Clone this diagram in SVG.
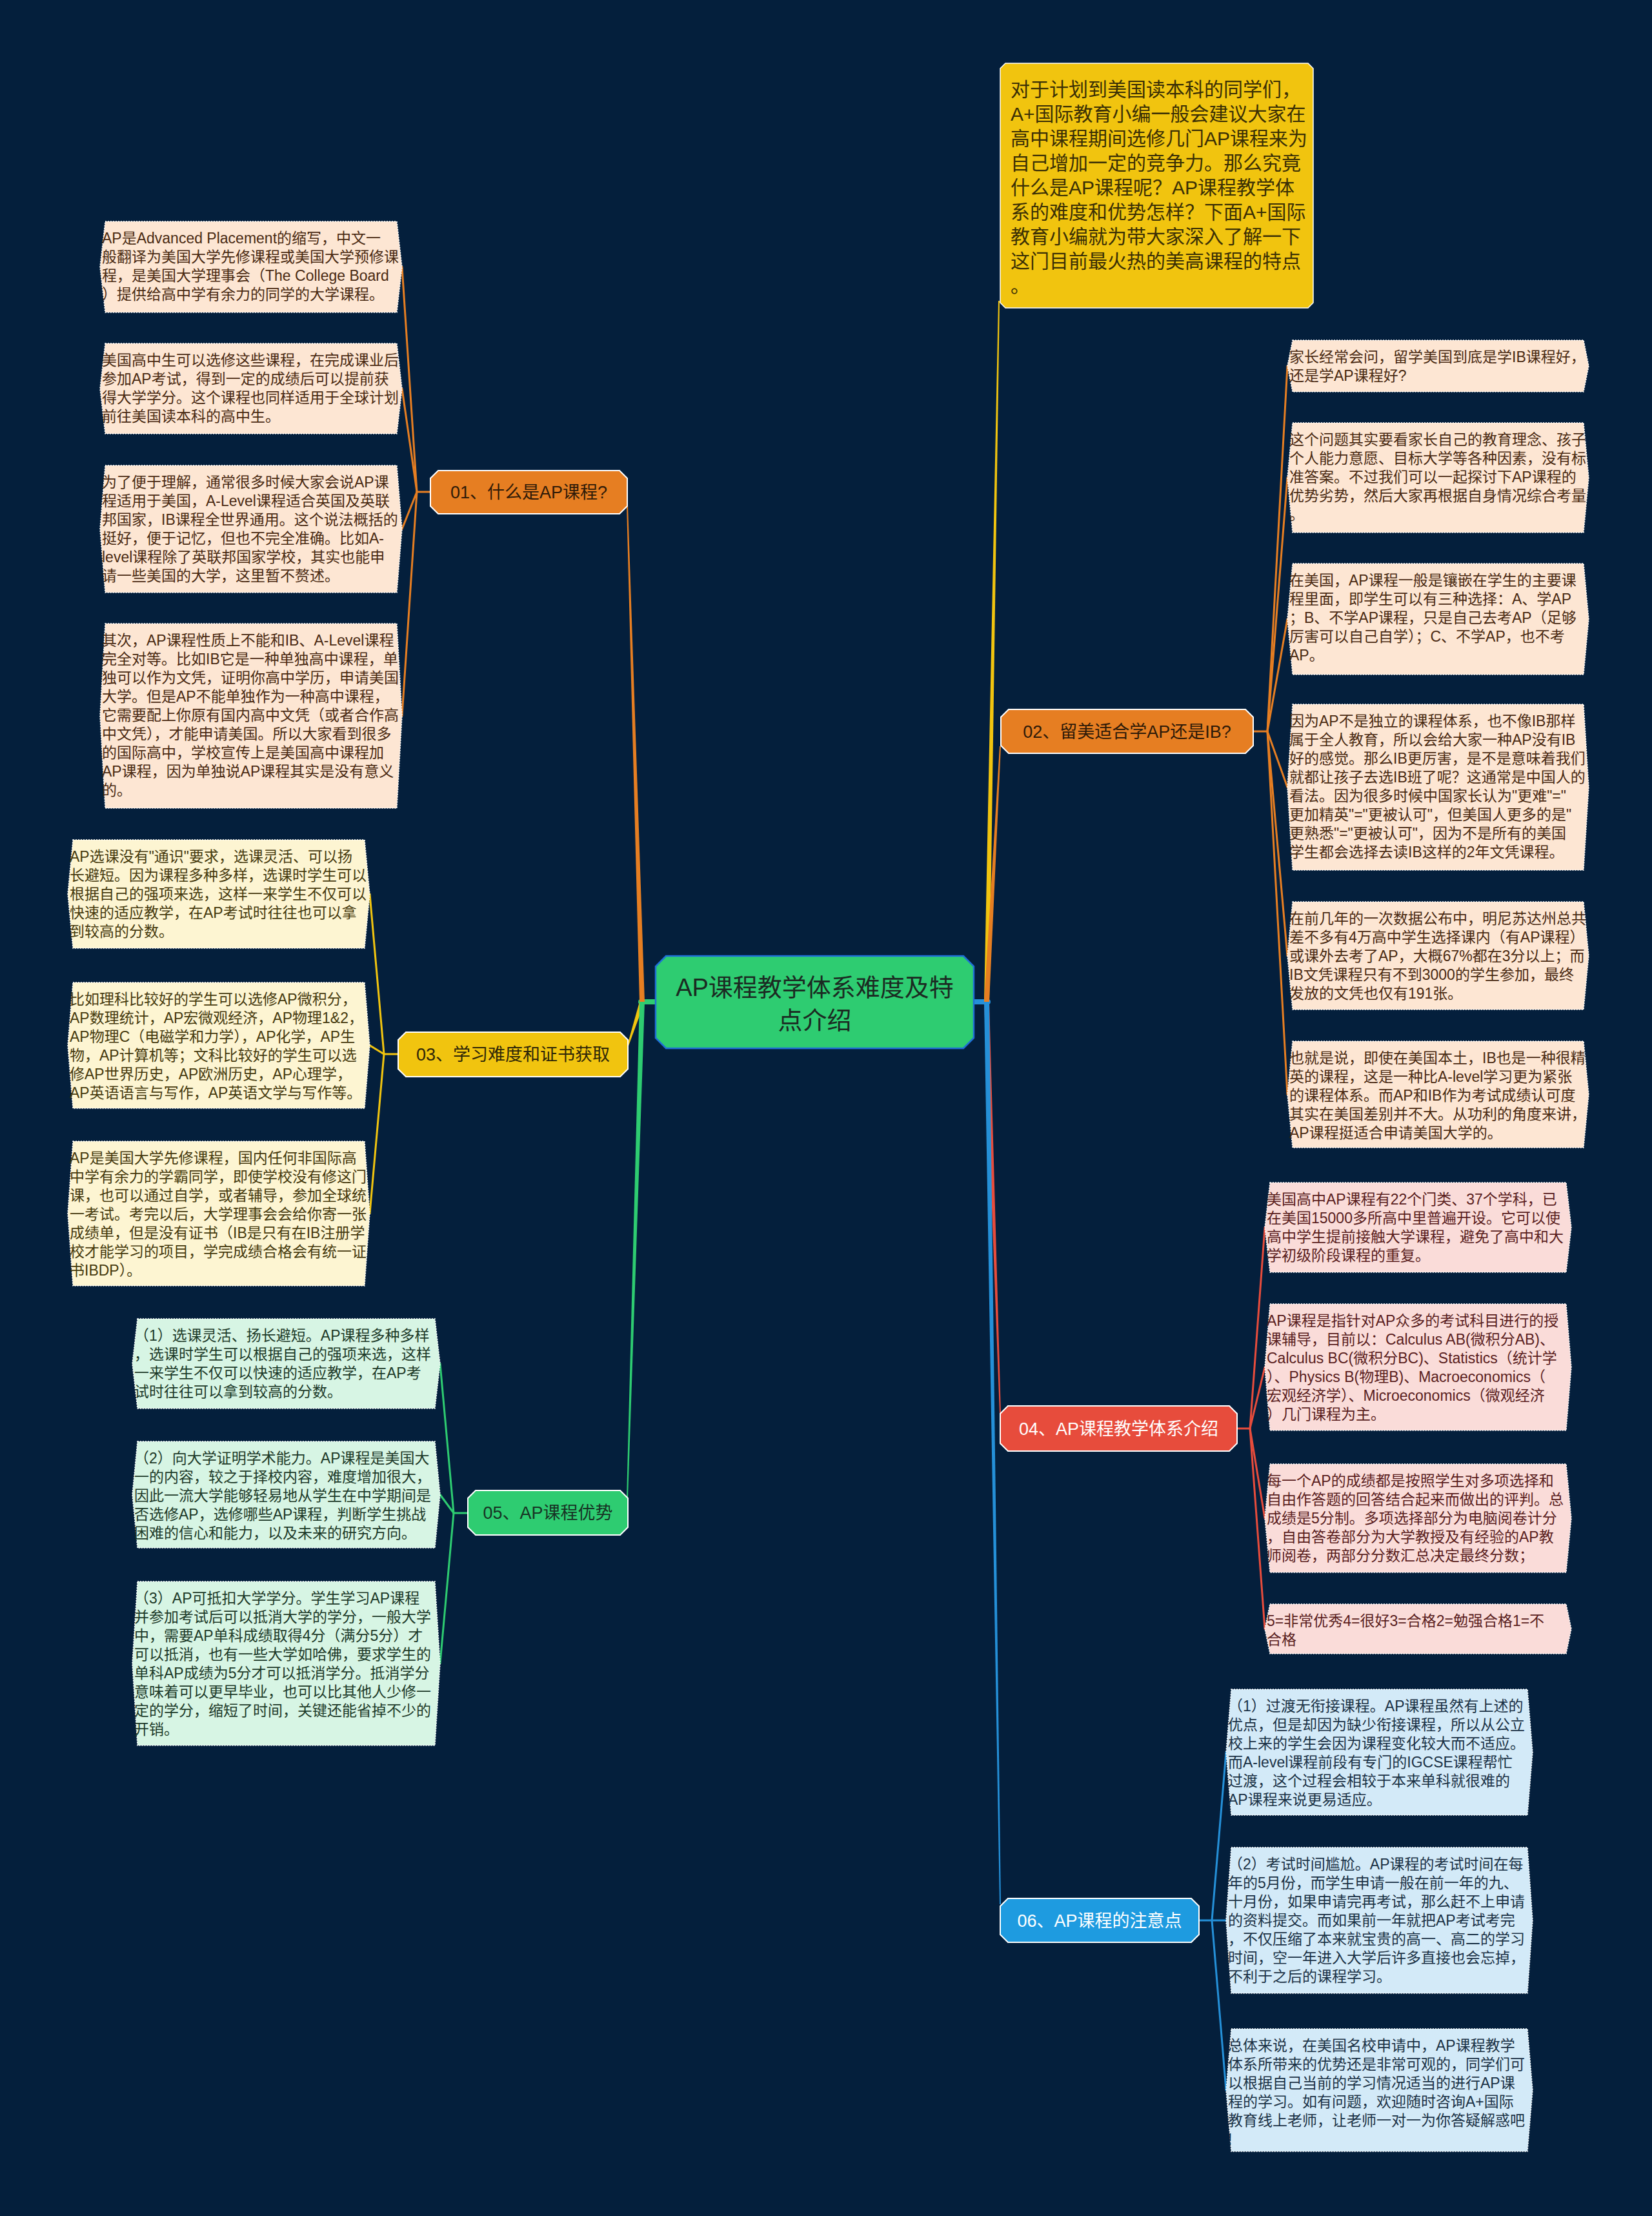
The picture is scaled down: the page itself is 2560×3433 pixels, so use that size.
<svg xmlns="http://www.w3.org/2000/svg" width="2560" height="3433" viewBox="0 0 2560 3433">
<style>
.lt{font-family:"Liberation Sans","Noto Sans CJK SC",sans-serif;font-size:23px}
.bt{font-family:"Liberation Sans","Noto Sans CJK SC",sans-serif;font-size:27px;text-anchor:middle}
.leaf polygon{stroke:#ffffff;stroke-width:1.5;stroke-dasharray:2 2}
.bn{stroke:#ffffff;stroke-width:2}
.fo{fill:#fde6d3}.fy{fill:#fdf5d2}.fg{fill:#d7f5e4}.fr{fill:#fadcd9}.fb{fill:#d3eaf8}
.to{fill:#4a2a12}.ty{fill:#463a0e}.tg{fill:#1d3a29}.tr{fill:#5a1e1e}.tb{fill:#1b3246}
.co{stroke:#e67e22}.cy{stroke:#f1c40f}.cg{stroke:#2ecc71}.cr{stroke:#e74c3c}.cb{stroke:#2590d8}
#connectors line{stroke-width:3;stroke-linecap:round;fill:none}
</style>
<rect x="0" y="0" width="2560" height="3433" fill="#041f3c"/>

<g id="connectors">
  <!-- center stubs -->
  <line x1="1016" y1="1552" x2="993" y2="1552" class="cg" style="stroke-width:8"/>
  <line x1="1509" y1="1552" x2="1531" y2="1552" class="cb" style="stroke-width:8"/>
  <!-- center to branches (tapered) -->
  <polygon points="991,1552 999,1552 973,783 971,783" fill="#e67e22"/>
  <polygon points="991,1552 999,1552 973,1623 971,1623" fill="#f1c40f"/>
  <polygon points="991,1552 999,1552 973,2321 971,2321" fill="#2ecc71"/>
  <polygon points="1525,1552 1533,1552 1549,466 1547,466" fill="#f1c40f"/>
  <polygon points="1525,1552 1533,1552 1551,1156 1549,1156" fill="#e67e22"/>
  <polygon points="1525,1552 1533,1552 1551,2190 1549,2190" fill="#e74c3c"/>
  <polygon points="1525,1552 1533,1552 1551,2950 1549,2950" fill="#2590d8"/>
  <!-- branch 01 -->
  <line x1="667" y1="762" x2="646" y2="762" class="co"/>
  <line x1="646" y1="762" x2="623" y2="413.5" class="co"/>
  <line x1="646" y1="762" x2="623" y2="602" class="co"/>
  <line x1="646" y1="762" x2="623" y2="819.5" class="co"/>
  <line x1="646" y1="762" x2="623" y2="1109" class="co"/>
  <!-- branch 03 -->
  <line x1="617" y1="1633" x2="595" y2="1633" class="cy"/>
  <line x1="595" y1="1633" x2="573" y2="1385" class="cy"/>
  <line x1="595" y1="1633" x2="573" y2="1619.5" class="cy"/>
  <line x1="595" y1="1633" x2="573" y2="1880" class="cy"/>
  <!-- branch 05 -->
  <line x1="725" y1="2344" x2="703" y2="2344" class="cg"/>
  <line x1="703" y1="2344" x2="682" y2="2112.5" class="cg"/>
  <line x1="703" y1="2344" x2="682" y2="2315.5" class="cg"/>
  <line x1="703" y1="2344" x2="682" y2="2577" class="cg"/>
  <!-- branch 02 -->
  <line x1="1942" y1="1133" x2="1964" y2="1133" class="co"/>
  <line x1="1964" y1="1133" x2="1995" y2="567" class="co"/>
  <line x1="1964" y1="1133" x2="1995" y2="740" class="co"/>
  <line x1="1964" y1="1133" x2="1995" y2="959" class="co"/>
  <line x1="1964" y1="1133" x2="1995" y2="1219.5" class="co"/>
  <line x1="1964" y1="1133" x2="1995" y2="1480.5" class="co"/>
  <line x1="1964" y1="1133" x2="1995" y2="1695.5" class="co"/>
  <!-- branch 04 -->
  <line x1="1917" y1="2213" x2="1937" y2="2213" class="cr"/>
  <line x1="1937" y1="2213" x2="1960" y2="1901.5" class="cr"/>
  <line x1="1937" y1="2213" x2="1960" y2="2118" class="cr"/>
  <line x1="1937" y1="2213" x2="1960" y2="2352" class="cr"/>
  <line x1="1937" y1="2213" x2="1960" y2="2523.5" class="cr"/>
  <!-- branch 06 -->
  <line x1="1858" y1="2975" x2="1878" y2="2975" class="cb"/>
  <line x1="1878" y1="2975" x2="1900" y2="2714.5" class="cb"/>
  <line x1="1878" y1="2975" x2="1900" y2="2975" class="cb"/>
  <line x1="1878" y1="2975" x2="1900" y2="3238" class="cb"/>
</g>

<g id="center">
  <polygon points="1032,1481 1493,1481 1509,1497 1509,1608 1493,1624 1032,1624 1016,1608 1016,1497" fill="#2ecc71" stroke="#1f6fd6" stroke-width="2.5"/>
  <text x="1262.5" y="1543" font-family="Liberation Sans, Noto Sans CJK SC, sans-serif" font-size="38" text-anchor="middle" fill="#1b2a22">AP课程教学体系难度及特</text>
  <text x="1262.5" y="1594" font-family="Liberation Sans, Noto Sans CJK SC, sans-serif" font-size="38" text-anchor="middle" fill="#1b2a22">点介绍</text>
</g>

<g id="intro">
  <polygon points="1558,98 2027,98 2035,106 2035,469 2027,477 1558,477 1550,469 1550,106" fill="#f1c40f" stroke="#ffffff" stroke-width="1.5"/>
  <text font-family="Liberation Sans, Noto Sans CJK SC, sans-serif" font-size="30" fill="#3a2f05">
    <tspan x="1566" y="149">对于计划到美国读本科的同学们，</tspan>
    <tspan x="1566" dy="38">A+国际教育小编一般会建议大家在</tspan>
    <tspan x="1566" dy="38">高中课程期间选修几门AP课程来为</tspan>
    <tspan x="1566" dy="38">自己增加一定的竞争力。那么究竟</tspan>
    <tspan x="1566" dy="38">什么是AP课程呢？AP课程教学体</tspan>
    <tspan x="1566" dy="38">系的难度和优势怎样？下面A+国际</tspan>
    <tspan x="1566" dy="38">教育小编就为带大家深入了解一下</tspan>
    <tspan x="1566" dy="38">这门目前最火热的美高课程的特点</tspan>
    <tspan x="1566" dy="38">。</tspan>
  </text>
</g>

<g id="b01">
  <polygon class="bn" points="679,729 960,729 972,741 972,784 960,796 679,796 667,784 667,741" fill="#e67e22"/>
  <text class="bt" x="819.5" y="772" fill="#2e1a08">01、什么是AP课程?</text>
</g>
<g id="b02">
  <polygon class="bn" points="1563,1099 1930,1099 1942,1111 1942,1155 1930,1167 1563,1167 1551,1155 1551,1111" fill="#e67e22"/>
  <text class="bt" x="1746.5" y="1143" fill="#2e1a08">02、留美适合学AP还是IB?</text>
</g>
<g id="b03">
  <polygon class="bn" points="629,1599 961,1599 973,1611 973,1656 961,1668 629,1668 617,1656 617,1611" fill="#f1c40f"/>
  <text class="bt" x="795" y="1643" fill="#2e2608">03、学习难度和证书获取</text>
</g>
<g id="b04">
  <polygon class="bn" points="1562,2178 1905,2178 1917,2190 1917,2236 1905,2248 1562,2248 1550,2236 1550,2190" fill="#e74c3c"/>
  <text class="bt" x="1733.5" y="2223" fill="#ffffff">04、AP课程教学体系介绍</text>
</g>
<g id="b05">
  <polygon class="bn" points="737,2309 961,2309 973,2321 973,2366 961,2378 737,2378 725,2366 725,2321" fill="#2ecc71"/>
  <text class="bt" x="849" y="2353" fill="#173324">05、AP课程优势</text>
</g>
<g id="b06">
  <polygon class="bn" points="1562,2941 1846,2941 1858,2953 1858,2997 1846,3009 1562,3009 1550,2997 1550,2953" fill="#1e9be0"/>
  <text class="bt" x="1704" y="2985" fill="#ffffff">06、AP课程的注意点</text>
</g>

<g id="l1-1" class="leaf">
  <polygon class="fo" points="163,343 615,343 623,413.5 615,484 163,484 155,413.5"/>
  <text class="lt to"><tspan x="158" y="377">AP是Advanced Placement的缩写，中文一</tspan><tspan x="158" dy="29">般翻译为美国大学先修课程或美国大学预修课</tspan><tspan x="158" dy="29">程，是美国大学理事会（The College Board</tspan><tspan x="158" dy="29">）提供给高中学有余力的同学的大学课程。</tspan></text>
</g>
<g id="l1-2" class="leaf">
  <polygon class="fo" points="163,532 615,532 623,602 615,672 163,672 155,602"/>
  <text class="lt to"><tspan x="158" y="566">美国高中生可以选修这些课程，在完成课业后</tspan><tspan x="158" dy="29">参加AP考试，得到一定的成绩后可以提前获</tspan><tspan x="158" dy="29">得大学学分。这个课程也同样适用于全球计划</tspan><tspan x="158" dy="29">前往美国读本科的高中生。</tspan></text>
</g>
<g id="l1-3" class="leaf">
  <polygon class="fo" points="163,721 615,721 623,819.5 615,918 163,918 155,819.5"/>
  <text class="lt to"><tspan x="158" y="755">为了便于理解，通常很多时候大家会说AP课</tspan><tspan x="158" dy="29">程适用于美国，A-Level课程适合英国及英联</tspan><tspan x="158" dy="29">邦国家，IB课程全世界通用。这个说法概括的</tspan><tspan x="158" dy="29">挺好，便于记忆，但也不完全准确。比如A-</tspan><tspan x="158" dy="29">level课程除了英联邦国家学校，其实也能申</tspan><tspan x="158" dy="29">请一些美国的大学，这里暂不赘述。</tspan></text>
</g>
<g id="l1-4" class="leaf">
  <polygon class="fo" points="163,966 615,966 623,1109 615,1252 163,1252 155,1109"/>
  <text class="lt to"><tspan x="158" y="1000">其次，AP课程性质上不能和IB、A-Level课程</tspan><tspan x="158" dy="29">完全对等。比如IB它是一种单独高中课程，单</tspan><tspan x="158" dy="29">独可以作为文凭，证明你高中学历，申请美国</tspan><tspan x="158" dy="29">大学。但是AP不能单独作为一种高中课程，</tspan><tspan x="158" dy="29">它需要配上你原有国内高中文凭（或者合作高</tspan><tspan x="158" dy="29">中文凭），才能申请美国。所以大家看到很多</tspan><tspan x="158" dy="29">的国际高中，学校宣传上是美国高中课程加</tspan><tspan x="158" dy="29">AP课程，因为单独说AP课程其实是没有意义</tspan><tspan x="158" dy="29">的。</tspan></text>
</g>

<g id="l3-1" class="leaf">
  <polygon class="fy" points="113,1301 565,1301 573,1385 565,1469 113,1469 105,1385"/>
  <text class="lt ty"><tspan x="108" y="1335">AP选课没有"通识"要求，选课灵活、可以扬</tspan><tspan x="108" dy="29">长避短。因为课程多种多样，选课时学生可以</tspan><tspan x="108" dy="29">根据自己的强项来选，这样一来学生不仅可以</tspan><tspan x="108" dy="29">快速的适应教学，在AP考试时往往也可以拿</tspan><tspan x="108" dy="29">到较高的分数。</tspan></text>
</g>
<g id="l3-2" class="leaf">
  <polygon class="fy" points="113,1522 565,1522 573,1619.5 565,1717 113,1717 105,1619.5"/>
  <text class="lt ty"><tspan x="108" y="1556">比如理科比较好的学生可以选修AP微积分，</tspan><tspan x="108" dy="29">AP数理统计，AP宏微观经济，AP物理1&amp;2，</tspan><tspan x="108" dy="29">AP物理C（电磁学和力学），AP化学，AP生</tspan><tspan x="108" dy="29">物，AP计算机等；文科比较好的学生可以选</tspan><tspan x="108" dy="29">修AP世界历史，AP欧洲历史，AP心理学，</tspan><tspan x="108" dy="29">AP英语语言与写作，AP英语文学与写作等。</tspan></text>
</g>
<g id="l3-3" class="leaf">
  <polygon class="fy" points="113,1768 565,1768 573,1880 565,1992 113,1992 105,1880"/>
  <text class="lt ty"><tspan x="108" y="1802">AP是美国大学先修课程，国内任何非国际高</tspan><tspan x="108" dy="29">中学有余力的学霸同学，即使学校没有修这门</tspan><tspan x="108" dy="29">课，也可以通过自学，或者辅导，参加全球统</tspan><tspan x="108" dy="29">一考试。考完以后，大学理事会会给你寄一张</tspan><tspan x="108" dy="29">成绩单，但是没有证书（IB是只有在IB注册学</tspan><tspan x="108" dy="29">校才能学习的项目，学完成绩合格会有统一证</tspan><tspan x="108" dy="29">书IBDP）。</tspan></text>
</g>

<g id="l5-1" class="leaf">
  <polygon class="fg" points="213,2043 674,2043 682,2112.5 674,2182 213,2182 205,2112.5"/>
  <text class="lt tg"><tspan x="208" y="2077">（1）选课灵活、扬长避短。AP课程多种多样</tspan><tspan x="208" dy="29">，选课时学生可以根据自己的强项来选，这样</tspan><tspan x="208" dy="29">一来学生不仅可以快速的适应教学，在AP考</tspan><tspan x="208" dy="29">试时往往可以拿到较高的分数。</tspan></text>
</g>
<g id="l5-2" class="leaf">
  <polygon class="fg" points="213,2233 674,2233 682,2315.5 674,2398 213,2398 205,2315.5"/>
  <text class="lt tg"><tspan x="208" y="2267">（2）向大学证明学术能力。AP课程是美国大</tspan><tspan x="208" dy="29">一的内容，较之于择校内容，难度增加很大，</tspan><tspan x="208" dy="29">因此一流大学能够轻易地从学生在中学期间是</tspan><tspan x="208" dy="29">否选修AP，选修哪些AP课程，判断学生挑战</tspan><tspan x="208" dy="29">困难的信心和能力，以及未来的研究方向。</tspan></text>
</g>
<g id="l5-3" class="leaf">
  <polygon class="fg" points="213,2450 674,2450 682,2577 674,2704 213,2704 205,2577"/>
  <text class="lt tg"><tspan x="208" y="2484">（3）AP可抵扣大学学分。学生学习AP课程</tspan><tspan x="208" dy="29">并参加考试后可以抵消大学的学分，一般大学</tspan><tspan x="208" dy="29">中，需要AP单科成绩取得4分（满分5分）才</tspan><tspan x="208" dy="29">可以抵消，也有一些大学如哈佛，要求学生的</tspan><tspan x="208" dy="29">单科AP成绩为5分才可以抵消学分。抵消学分</tspan><tspan x="208" dy="29">意味着可以更早毕业，也可以比其他人少修一</tspan><tspan x="208" dy="29">定的学分，缩短了时间，关键还能省掉不少的</tspan><tspan x="208" dy="29">开销。</tspan></text>
</g>

<g id="l2-1" class="leaf">
  <polygon class="fo" points="2003,527 2454,527 2462,567 2454,607 2003,607 1995,567"/>
  <text class="lt to"><tspan x="1998" y="561">家长经常会问，留学美国到底是学IB课程好，</tspan><tspan x="1998" dy="29">还是学AP课程好?</tspan></text>
</g>
<g id="l2-2" class="leaf">
  <polygon class="fo" points="2003,655 2454,655 2462,740 2454,825 2003,825 1995,740"/>
  <text class="lt to"><tspan x="1998" y="689">这个问题其实要看家长自己的教育理念、孩子</tspan><tspan x="1998" dy="29">个人能力意愿、目标大学等各种因素，没有标</tspan><tspan x="1998" dy="29">准答案。不过我们可以一起探讨下AP课程的</tspan><tspan x="1998" dy="29">优势劣势，然后大家再根据自身情况综合考量</tspan><tspan x="1998" dy="29">。</tspan></text>
</g>
<g id="l2-3" class="leaf">
  <polygon class="fo" points="2003,873 2454,873 2462,959 2454,1045 2003,1045 1995,959"/>
  <text class="lt to"><tspan x="1998" y="907">在美国，AP课程一般是镶嵌在学生的主要课</tspan><tspan x="1998" dy="29">程里面，即学生可以有三种选择：A、学AP</tspan><tspan x="1998" dy="29">；B、不学AP课程，只是自己去考AP（足够</tspan><tspan x="1998" dy="29">厉害可以自己自学）；C、不学AP，也不考</tspan><tspan x="1998" dy="29">AP。</tspan></text>
</g>
<g id="l2-4" class="leaf">
  <polygon class="fo" points="2003,1091 2454,1091 2462,1219.5 2454,1348 2003,1348 1995,1219.5"/>
  <text class="lt to"><tspan x="1998" y="1125">因为AP不是独立的课程体系，也不像IB那样</tspan><tspan x="1998" dy="29">属于全人教育，所以会给大家一种AP没有IB</tspan><tspan x="1998" dy="29">好的感觉。那么IB更厉害，是不是意味着我们</tspan><tspan x="1998" dy="29">就都让孩子去选IB班了呢？这通常是中国人的</tspan><tspan x="1998" dy="29">看法。因为很多时候中国家长认为"更难"="</tspan><tspan x="1998" dy="29">更加精英"="更被认可"，但美国人更多的是"</tspan><tspan x="1998" dy="29">更熟悉"="更被认可"，因为不是所有的美国</tspan><tspan x="1998" dy="29">学生都会选择去读IB这样的2年文凭课程。</tspan></text>
</g>
<g id="l2-5" class="leaf">
  <polygon class="fo" points="2003,1397 2454,1397 2462,1480.5 2454,1564 2003,1564 1995,1480.5"/>
  <text class="lt to"><tspan x="1998" y="1431">在前几年的一次数据公布中，明尼苏达州总共</tspan><tspan x="1998" dy="29">差不多有4万高中学生选择课内（有AP课程）</tspan><tspan x="1998" dy="29">或课外去考了AP，大概67%都在3分以上；而</tspan><tspan x="1998" dy="29">IB文凭课程只有不到3000的学生参加，最终</tspan><tspan x="1998" dy="29">发放的文凭也仅有191张。</tspan></text>
</g>
<g id="l2-6" class="leaf">
  <polygon class="fo" points="2003,1613 2454,1613 2462,1695.5 2454,1778 2003,1778 1995,1695.5"/>
  <text class="lt to"><tspan x="1998" y="1647">也就是说，即使在美国本土，IB也是一种很精</tspan><tspan x="1998" dy="29">英的课程，这是一种比A-level学习更为紧张</tspan><tspan x="1998" dy="29">的课程体系。而AP和IB作为考试成绩认可度</tspan><tspan x="1998" dy="29">其实在美国差别并不大。从功利的角度来讲，</tspan><tspan x="1998" dy="29">AP课程挺适合申请美国大学的。</tspan></text>
</g>

<g id="l4-1" class="leaf">
  <polygon class="fr" points="1968,1832 2427,1832 2435,1901.5 2427,1971 1968,1971 1960,1901.5"/>
  <text class="lt tr"><tspan x="1963" y="1866">美国高中AP课程有22个门类、37个学科，已</tspan><tspan x="1963" dy="29">在美国15000多所高中里普遍开设。它可以使</tspan><tspan x="1963" dy="29">高中学生提前接触大学课程，避免了高中和大</tspan><tspan x="1963" dy="29">学初级阶段课程的重复。</tspan></text>
</g>
<g id="l4-2" class="leaf">
  <polygon class="fr" points="1968,2020 2427,2020 2435,2118 2427,2216 1968,2216 1960,2118"/>
  <text class="lt tr"><tspan x="1963" y="2054">AP课程是指针对AP众多的考试科目进行的授</tspan><tspan x="1963" dy="29">课辅导，目前以：Calculus AB(微积分AB)、</tspan><tspan x="1963" dy="29">Calculus BC(微积分BC)、Statistics（统计学</tspan><tspan x="1963" dy="29">）、Physics B(物理B)、Macroeconomics（</tspan><tspan x="1963" dy="29">宏观经济学）、Microeconomics（微观经济</tspan><tspan x="1963" dy="29">）几门课程为主。</tspan></text>
</g>
<g id="l4-3" class="leaf">
  <polygon class="fr" points="1968,2268 2427,2268 2435,2352 2427,2436 1968,2436 1960,2352"/>
  <text class="lt tr"><tspan x="1963" y="2302">每一个AP的成绩都是按照学生对多项选择和</tspan><tspan x="1963" dy="29">自由作答题的回答结合起来而做出的评判。总</tspan><tspan x="1963" dy="29">成绩是5分制。多项选择部分为电脑阅卷计分</tspan><tspan x="1963" dy="29">，自由答卷部分为大学教授及有经验的AP教</tspan><tspan x="1963" dy="29">师阅卷，两部分分数汇总决定最终分数；</tspan></text>
</g>
<g id="l4-4" class="leaf">
  <polygon class="fr" points="1968,2485 2427,2485 2435,2523.5 2427,2562 1968,2562 1960,2523.5"/>
  <text class="lt tr"><tspan x="1963" y="2519">5=非常优秀4=很好3=合格2=勉强合格1=不</tspan><tspan x="1963" dy="29">合格</tspan></text>
</g>

<g id="l6-1" class="leaf">
  <polygon class="fb" points="1908,2617 2367,2617 2375,2714.5 2367,2812 1908,2812 1900,2714.5"/>
  <text class="lt tb"><tspan x="1903" y="2651">（1）过渡无衔接课程。AP课程虽然有上述的</tspan><tspan x="1903" dy="29">优点，但是却因为缺少衔接课程，所以从公立</tspan><tspan x="1903" dy="29">校上来的学生会因为课程变化较大而不适应。</tspan><tspan x="1903" dy="29">而A-level课程前段有专门的IGCSE课程帮忙</tspan><tspan x="1903" dy="29">过渡，这个过程会相较于本来单科就很难的</tspan><tspan x="1903" dy="29">AP课程来说更易适应。</tspan></text>
</g>
<g id="l6-2" class="leaf">
  <polygon class="fb" points="1908,2862 2367,2862 2375,2975 2367,3088 1908,3088 1900,2975"/>
  <text class="lt tb"><tspan x="1903" y="2896">（2）考试时间尴尬。AP课程的考试时间在每</tspan><tspan x="1903" dy="29">年的5月份，而学生申请一般在前一年的九、</tspan><tspan x="1903" dy="29">十月份，如果申请完再考试，那么赶不上申请</tspan><tspan x="1903" dy="29">的资料提交。而如果前一年就把AP考试考完</tspan><tspan x="1903" dy="29">，不仅压缩了本来就宝贵的高一、高二的学习</tspan><tspan x="1903" dy="29">时间，空一年进入大学后许多直接也会忘掉，</tspan><tspan x="1903" dy="29">不利于之后的课程学习。</tspan></text>
</g>
<g id="l6-3" class="leaf">
  <polygon class="fb" points="1908,3143 2367,3143 2375,3238 2367,3333 1908,3333 1900,3238"/>
  <text class="lt tb"><tspan x="1903" y="3177">总体来说，在美国名校申请中，AP课程教学</tspan><tspan x="1903" dy="29">体系所带来的优势还是非常可观的，同学们可</tspan><tspan x="1903" dy="29">以根据自己当前的学习情况适当的进行AP课</tspan><tspan x="1903" dy="29">程的学习。如有问题，欢迎随时咨询A+国际</tspan><tspan x="1903" dy="29">教育线上老师，让老师一对一为你答疑解惑吧</tspan><tspan x="1903" dy="29">!</tspan></text>
</g>
</svg>
